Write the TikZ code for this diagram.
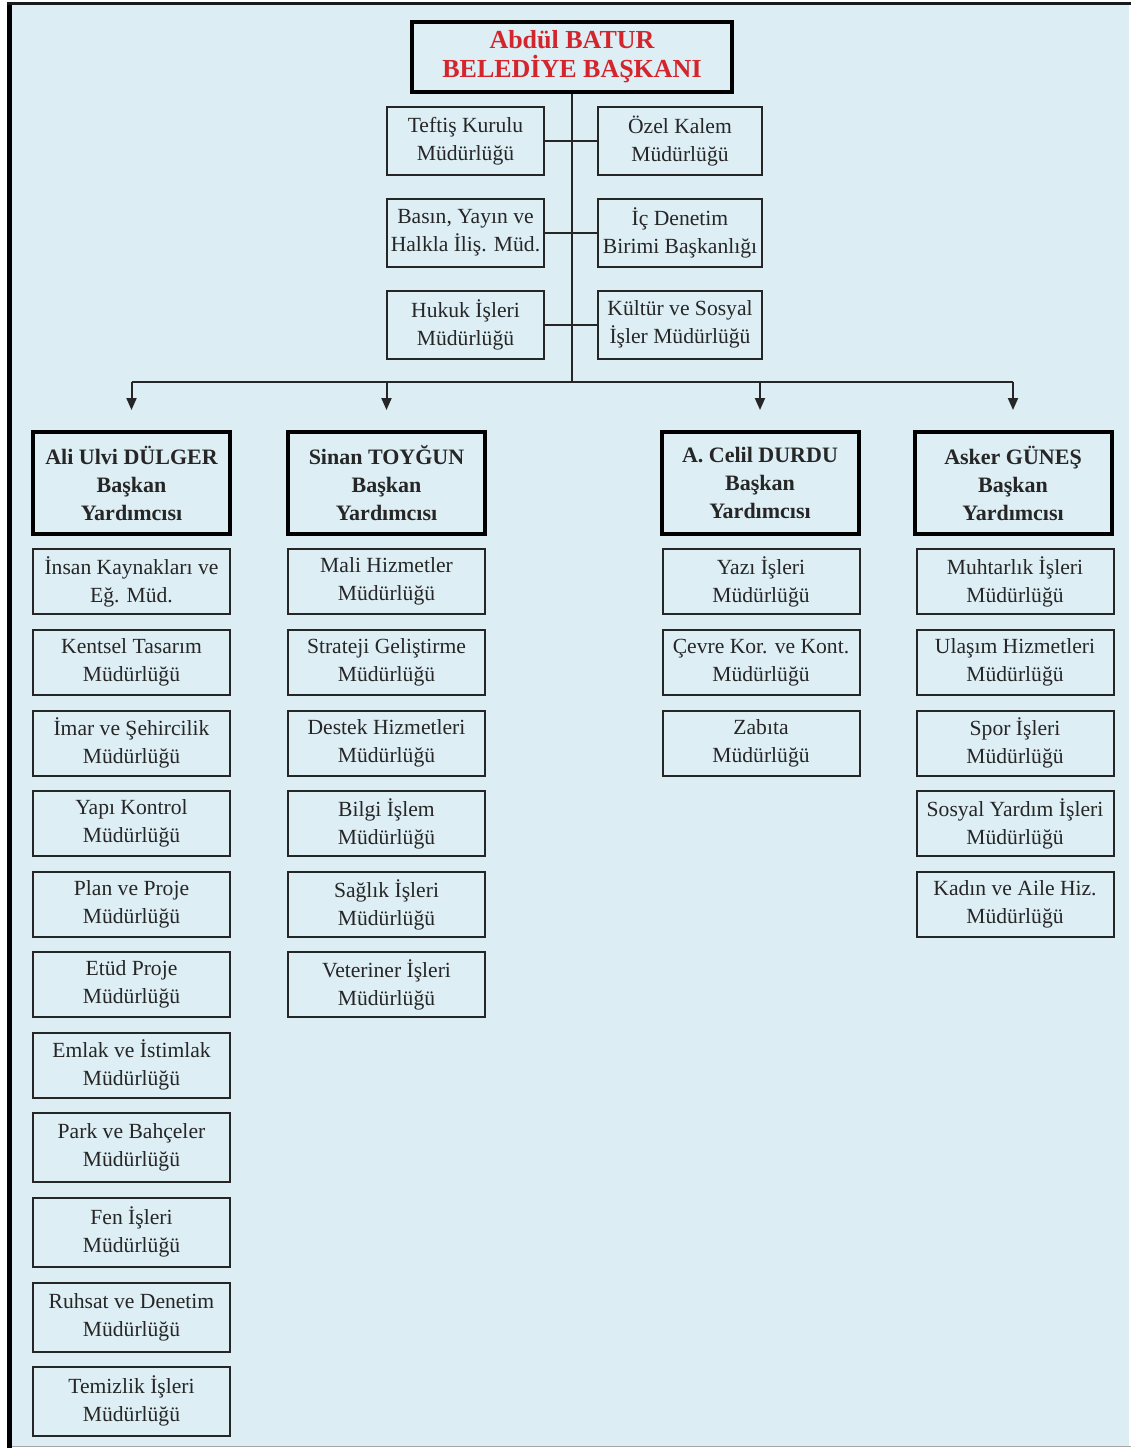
\documentclass[tikz,border=0pt]{standalone}
\usepackage{fontspec}
\setmainfont{Liberation Serif}
\usetikzlibrary{arrows.meta}
\definecolor{bgblue}{RGB}{220,237,243}
\definecolor{boxfill}{RGB}{221,238,245}
\definecolor{titlered}{RGB}{212,36,44}
\definecolor{txt}{RGB}{38,38,38}
\tikzset{
  sub/.style={draw=black!85, line width=1pt, fill=boxfill, align=center, inner sep=1pt,
    minimum width=98.5pt, minimum height=32.5pt, text=txt, font=\fontsize{10.8}{14}\selectfont},
  subtall/.style={sub, minimum height=34.5pt},
  toprow/.style={sub, minimum height=34pt},
  vp/.style={draw=black, line width=2pt, fill=boxfill, align=center, inner sep=1pt,
    minimum width=98.5pt, minimum height=51pt, text=black!85, font=\fontsize{11}{14}\selectfont\bfseries},
  chief/.style={draw=black, line width=2pt, fill=boxfill, align=center, inner sep=1pt,
    minimum width=160pt, minimum height=35pt, text=titlered, font=\fontsize{13}{14.5}\selectfont\bfseries},
  link/.style={draw=black!85, line width=1pt},
  arr/.style={link, -{Triangle[length=6pt,width=5pt]}}
}
\begin{document}
\begin{tikzpicture}[x=0.5pt,y=-0.5pt]
\useasboundingbox (0,0) rectangle (1131,1448);
% page
\fill[white] (0,0) rectangle (1131,1448);
\fill[bgblue] (8,3) rectangle (1129,1446);
\fill[black] (7,2) rectangle (12,1448);
\fill[black!90] (7,2) rectangle (1131,5);
\draw[black!35, line width=0.5pt] (12,1446.5) -- (1131,1446.5);

% chief and staff units
\node[chief] (top) at (572,57) {Abdül BATUR\\BELEDİYE BAŞKANI};
\node[toprow, minimum width=78.5pt] (tef) at (465.5,141) {Teftiş Kurulu\\Müdürlüğü};
\node[toprow, minimum width=82pt] (ozel) at (680,141) {Özel Kalem\\Müdürlüğü};
\node[toprow, minimum width=78.5pt] (basin) at (465.5,232.5) {Basın, Yayın ve\\Halkla İliş. Müd.};
\node[toprow, minimum width=82pt] (ic) at (680,232.5) {İç Denetim\\Birimi Başkanlığı};
\node[toprow, minimum width=78.5pt] (hukuk) at (465.5,324.5) {Hukuk İşleri\\Müdürlüğü};
\node[toprow, minimum width=82pt] (kultur) at (680,324.5) {Kültür ve Sosyal\\İşler Müdürlüğü};

\coordinate (hub) at (572,382);
\coordinate (tipy) at (0,410);

% deputies
\node[vp] (ali) at (131.5,483) {Ali Ulvi DÜLGER\\Başkan\\Yardımcısı};
\node[vp] (sinan) at (386.5,483) {Sinan TOYĞUN\\Başkan\\Yardımcısı};
\node[vp] (celil) at (760,483) {A. Celil DURDU\\Başkan\\Yardımcısı};
\node[vp] (asker) at (1013,483) {Asker GÜNEŞ\\Başkan\\Yardımcısı};

% Ali column
\node[sub] (a1) at (131.5,581.5) {İnsan Kaynakları ve\\Eğ. Müd.};
\node[sub] (a2) at (131.5,662.5) {Kentsel Tasarım\\Müdürlüğü};
\node[sub] (a3) at (131.5,743) {İmar ve Şehircilik\\Müdürlüğü};
\node[sub] (a4) at (131.5,823.5) {Yapı Kontrol\\Müdürlüğü};
\node[sub] (a5) at (131.5,904.5) {Plan ve Proje\\Müdürlüğü};
\node[sub] (a6) at (131.5,984.5) {Etüd Proje\\Müdürlüğü};
\node[sub] (a7) at (131.5,1065) {Emlak ve İstimlak\\Müdürlüğü};
\node[subtall] (a8) at (131.5,1147.5) {Park ve Bahçeler\\Müdürlüğü};
\node[subtall] (a9) at (131.5,1232) {Fen İşleri\\Müdürlüğü};
\node[subtall] (a10) at (131.5,1317) {Ruhsat ve Denetim\\Müdürlüğü};
\node[subtall] (a11) at (131.5,1401) {Temizlik İşleri\\Müdürlüğü};

% Sinan column
\node[sub] (s1) at (386.5,581.5) {Mali Hizmetler\\Müdürlüğü};
\node[sub] (s2) at (386.5,662.5) {Strateji Geliştirme\\Müdürlüğü};
\node[sub] (s3) at (386.5,743) {Destek Hizmetleri\\Müdürlüğü};
\node[sub] (s4) at (386.5,823.5) {Bilgi İşlem\\Müdürlüğü};
\node[sub] (s5) at (386.5,904.5) {Sağlık İşleri\\Müdürlüğü};
\node[sub] (s6) at (386.5,984.5) {Veteriner İşleri\\Müdürlüğü};

% Celil column
\node[sub] (c1) at (761,581.5) {Yazı İşleri\\Müdürlüğü};
\node[sub] (c2) at (761,662.5) {Çevre Kor. ve Kont.\\Müdürlüğü};
\node[sub] (c3) at (761,743) {Zabıta\\Müdürlüğü};

% Asker column
\node[sub] (k1) at (1015,581.5) {Muhtarlık İşleri\\Müdürlüğü};
\node[sub] (k2) at (1015,662.5) {Ulaşım Hizmetleri\\Müdürlüğü};
\node[sub] (k3) at (1015,743) {Spor İşleri\\Müdürlüğü};
\node[sub] (k4) at (1015,823.5) {Sosyal Yardım İşleri\\Müdürlüğü};
\node[sub] (k5) at (1015,904.5) {Kadın ve Aile Hiz.\\Müdürlüğü};

% connectors
\draw[link] (top.south) -- (hub);
\draw[link] (tef.east) -- (ozel.west);
\draw[link] (basin.east) -- (ic.west);
\draw[link] (hukuk.east) -- (kultur.west);
\draw[link] (ali.north |- hub) -- (asker.north |- hub);
\draw[arr] (ali.north |- hub) -- (ali.north |- tipy);
\draw[arr] (sinan.north |- hub) -- (sinan.north |- tipy);
\draw[arr] (celil.north |- hub) -- (celil.north |- tipy);
\draw[arr] (asker.north |- hub) -- (asker.north |- tipy);
\end{tikzpicture}
\end{document}
